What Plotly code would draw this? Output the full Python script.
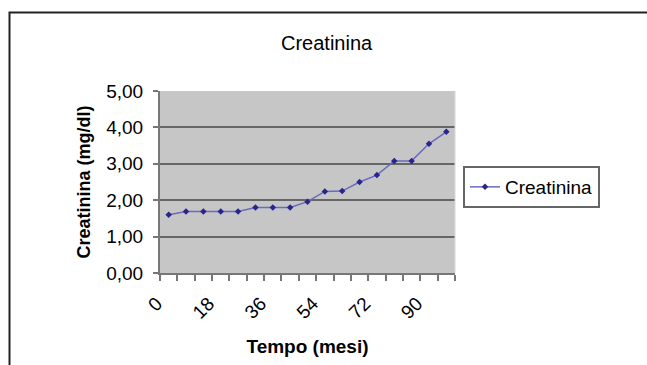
import plotly.graph_objects as go

# Data
mesi = [0, 6, 12, 18, 24, 30, 36, 42, 48, 54, 60, 66, 72, 78, 84, 90, 96]
creatinina = [1.60, 1.69, 1.69, 1.69, 1.69, 1.80, 1.80, 1.80, 1.96, 2.24, 2.25, 2.50, 2.69, 3.08, 3.08, 3.55, 3.88]
x_tick_vals = [0, 18, 36, 54, 72, 90]
x_tick_text = ["0", "18", "36", "54", "72", "90"]
x_tick_marks = [m - 3 for m in mesi] + [mesi[-1] + 3]
y_tick_vals = [0, 1, 2, 3, 4, 5]
y_grid_vals = [1, 2, 3, 4]

W, H = 647, 365
FONT = "Liberation Sans, Arial, sans-serif"

fig = go.Figure()
fig.add_trace(go.Scatter(
    x=mesi, y=creatinina, mode="lines+markers", name="Creatinina",
    line=dict(color="#6a6ac0", width=1.5),
    marker=dict(color="#26268c", size=5, symbol="diamond"),
))

fig.update_layout(
    width=W, height=H,
    margin=dict(l=0, r=0, t=0, b=0),
    paper_bgcolor="white",
    plot_bgcolor="#c6c6c6",
    separators=",.",
    font=dict(family=FONT, size=19, color="#000"),
    showlegend=True,
    legend=dict(
        x=463 / W, y=1 - 166 / H, xanchor="left", yanchor="top",
        bordercolor="#666", borderwidth=2, bgcolor="white",
        font=dict(size=19, family=FONT, color="#000"),
        itemwidth=30, tracegroupgap=0,
    ),
    annotations=[dict(
        text="Creatinina", x=327 / W, y=1 - 43 / H, xref="paper", yref="paper",
        showarrow=False, xanchor="center", yanchor="middle",
        font=dict(size=20, family=FONT, color="#000"),
    )],
    xaxis=dict(
        domain=[160 / W, 455 / W],
        range=[-3, 99],
        tickmode="array", tickvals=x_tick_vals, ticktext=x_tick_text,
        ticks="", tickangle=-45,
        showgrid=False, zeroline=False,
        showline=True, linecolor="#777", linewidth=2,
        minor=dict(tickmode="array", tickvals=x_tick_marks, ticks="outside",
                   ticklen=6, tickcolor="#777", tickwidth=2, showgrid=False),
        ticklabelstandoff=10, ticklabelshift=-12,
        tickfont=dict(size=19),
        title=dict(text="<b>Tempo (mesi)</b>", font=dict(size=19), standoff=18),
        automargin=False,
    ),
    yaxis=dict(
        domain=[1 - 273 / H, 1 - 91 / H],
        range=[0, 5],
        tickmode="array", tickvals=y_tick_vals, tickformat=".2f",
        ticks="outside", ticklen=5, tickcolor="#777", tickwidth=2,
        showgrid=False, zeroline=False,
        showline=True, linecolor="#777", linewidth=2,
        minor=dict(tickmode="array", tickvals=y_grid_vals, ticks="",
                   showgrid=True, gridcolor="#666", gridwidth=2),
        ticklabelstandoff=6,
        tickfont=dict(size=19),
        title=dict(text="<b>Creatinina (mg/dl)</b>", font=dict(size=18), standoff=11),
        automargin=False,
    ),
    shapes=[
        dict(type="rect", xref="paper", yref="paper",
             x0=9.5 / W, x1=1.05, y0=-0.05, y1=1 - 12.5 / H,
             line=dict(color="#222", width=2), fillcolor="rgba(0,0,0,0)", layer="below"),
        dict(type="line", xref="paper", yref="paper",
             x0=455 / W, x1=455 / W, y0=1 - 273 / H, y1=1 - 91 / H,
             line=dict(color="#d8d8d8", width=1)),
    ],
)

fig.write_html("out.html")
